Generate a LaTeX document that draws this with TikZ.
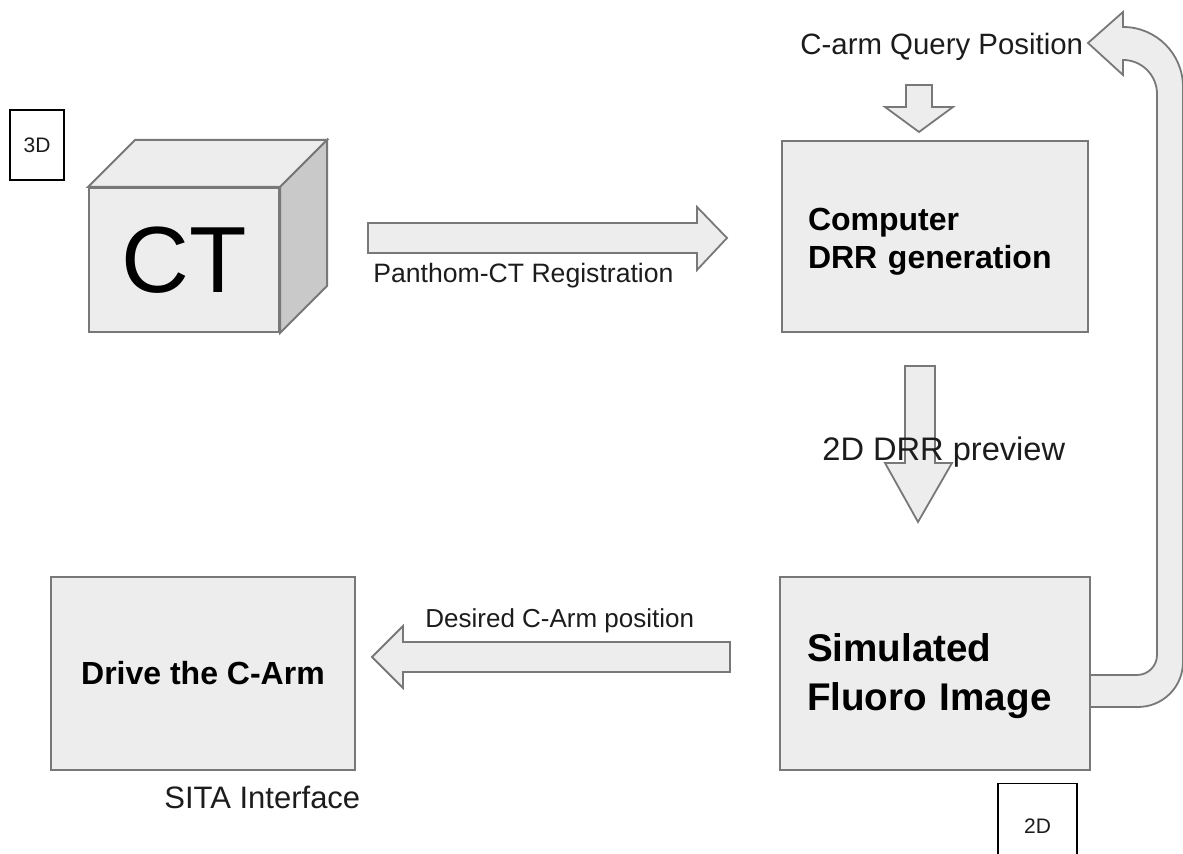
\documentclass[tikz,border=0pt]{standalone}
\usepackage{fontspec}
\setmainfont{Liberation Sans}
\usetikzlibrary{positioning, calc}
\definecolor{myFill}{HTML}{EDEDED}
\definecolor{mySide}{HTML}{C9C9C9}
\definecolor{myLine}{HTML}{787878}
\definecolor{myText}{HTML}{1C1C1C}

\begin{document}
\begin{tikzpicture}[x=0.5pt, y=0.5pt,
  box/.style={draw=myLine, line width=1pt, fill=myFill, text=black,
              inner ysep=0pt},
  fat/.style={draw=myLine, line width=0.9pt, fill=myFill, line join=miter},
  tag/.style={draw=black, line width=0.7pt, fill=white, text=myText,
              font=\fontsize{10.5}{12}\selectfont},
  lbl/.style={anchor=base west, inner sep=0pt, text=myText}
]
\useasboundingbox (0,0) rectangle (1183,854);

\draw[fat] (1090,147) -- (1138,147) arc[start angle=-90, end angle=0, radius=45]
  -- (1183,767) arc[start angle=0, end angle=90, radius=60]
  -- (1123,842) -- (1088,811) -- (1123,779) -- (1123,794)
  arc[start angle=90, end angle=0, radius=34]
  -- (1157,199) arc[start angle=0, end angle=-90, radius=20]
  -- (1090,179) -- cycle;

\node[box, minimum width=153pt, minimum height=95.5pt, text width=127pt,
      inner xsep=13pt, align=left, text height=16pt,
      font=\bfseries\fontsize{16}{19.3}\selectfont]
  (drr) at (935,617) {Computer\\DRR generation};
\node[box, minimum width=155pt, minimum height=96.5pt, text width=128pt,
      inner xsep=13.5pt, align=left, text height=17pt,
      font=\bfseries\fontsize{19.3}{24.5}\selectfont]
  (fluoro) at (935,180.5) {Simulated\\Fluoro Image};
\node[box, minimum width=152pt, minimum height=96.5pt, align=center,
      font=\bfseries\fontsize{16}{19}\selectfont]
  (drive) at (203,180.5) {Drive the C-Arm};

\node[box, minimum width=95pt, minimum height=72pt, inner sep=0pt,
      font=\fontsize{47}{50}\selectfont] (ct) at (184,594) {CT};
\draw[box] (ct.north west) -- ++(47,47) -- ($(ct.north east)+(47,47)$)
  -- (ct.north east) -- cycle;
\draw[box, fill=mySide] (ct.north east) -- ++(47,47) -- ($(ct.south east)+(47,47)$)
  -- (ct.south east) -- cycle;

\node[tag, minimum width=27pt, minimum height=35pt] (dim3) at (37,709) {3D};
\node[tag, minimum width=39.5pt, minimum height=43pt] (dim2) at (1037.5,27.5) {2D};

\draw[fat] (368,601) -- (697,601) -- (697,584) -- (727,616) -- (697,647)
  -- (697,631) -- (368,631) -- cycle;
\draw[fat] (906,769) -- (932,769) -- (932,747) -- (953,747) -- (919,722)
  -- (885,747) -- (906,747) -- cycle;
\draw[fat] (905,488) -- (935,488) -- (935,391) -- (952,391) -- (918,332)
  -- (885,391) -- (905,391) -- cycle;
\draw[fat] (730,212) -- (403,212) -- (403,228) -- (372,197) -- (403,166)
  -- (403,182) -- (730,182) -- cycle;

\node[lbl, font=\fontsize{14.7}{17}\selectfont] (query) at (800,799) {C-arm Query Position};
\node[lbl, font=\fontsize{13.3}{16}\selectfont] (reg) at (373,571) {Panthom-CT Registration};
\node[lbl, font=\fontsize{16.3}{19}\selectfont] (prev) at (822,393) {2D DRR preview};
\node[lbl, font=\fontsize{13}{16}\selectfont] (desired) at (425,226) {Desired C-Arm position};
\node[lbl, font=\fontsize{15.5}{18}\selectfont] (sita) at (164,45) {SITA Interface};
\end{tikzpicture}
\end{document}
